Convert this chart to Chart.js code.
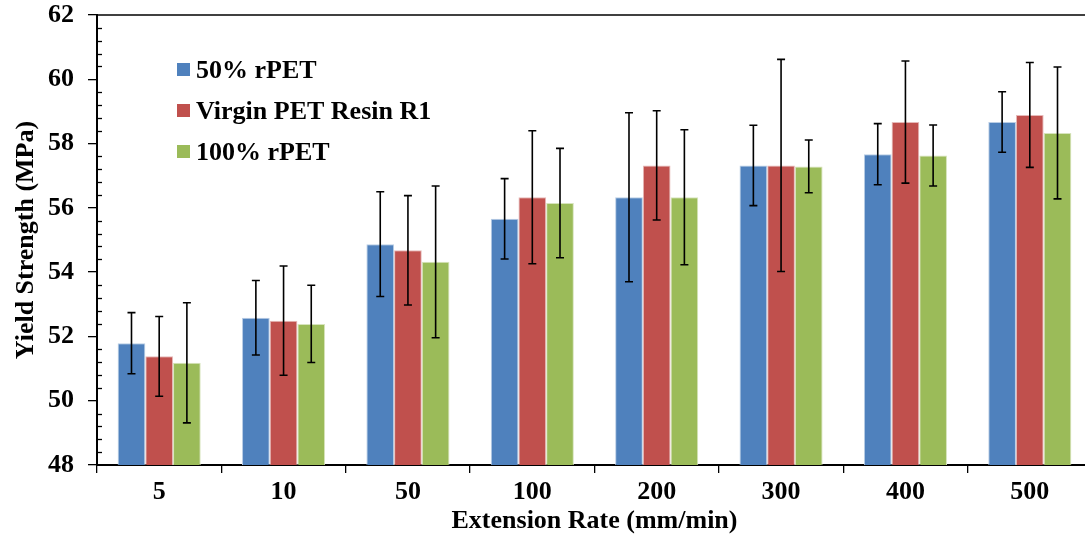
<!DOCTYPE html>
<html>
<head>
<meta charset="utf-8">
<script src="https://cdn.jsdelivr.net/npm/chart.js@4/dist/chart.umd.min.js"></script>
<style>
  html, body { margin: 0; padding: 0; background: #fff; overflow: hidden; }
  #wrap { width: 1092px; height: 537px; }
</style>
</head>
<body>
<div id="wrap"><canvas id="yieldChart"></canvas></div>
<script>
// extension rates (mm/min)
const categories = ['5', '10', '50', '100', '200', '300', '400', '500'];

// yield strength (MPa) and error bars
const rpet50 = [51.79, 52.58, 54.87, 55.66, 56.33, 57.32, 57.67, 58.67];
const rpet50Err = [0.95, 1.16, 1.63, 1.25, 2.63, 1.25, 0.95, 0.94];
const virgin = [51.38, 52.49, 54.68, 56.33, 57.32, 57.32, 58.67, 58.89];
const virginErr = [1.24, 1.70, 1.70, 2.07, 1.70, 3.30, 1.90, 1.63];
const rpet100 = [51.18, 52.39, 54.32, 56.15, 56.33, 57.29, 57.63, 58.33];
const rpet100Err = [1.87, 1.20, 2.36, 1.70, 2.10, 0.82, 0.95, 2.05];

const yMin = 48, yMax = 62, yStep = 2, yMinorStep = 0.4;

const FONT = 'Liberation Serif, "Times New Roman", serif';

// error bars drawn through the y scale
const errorBars = {
  id: 'errorBars',
  afterDatasetsDraw(chart) {
    const ctx = chart.ctx;
    const y = chart.scales.y;
    ctx.save();
    ctx.strokeStyle = '#000';
    ctx.lineWidth = 1.6;
    chart.data.datasets.forEach((ds, i) => {
      const meta = chart.getDatasetMeta(i);
      meta.data.forEach((bar, j) => {
        const top = y.getPixelForValue(ds.data[j] + ds.err[j]);
        const bot = y.getPixelForValue(ds.data[j] - ds.err[j]);
        const x = bar.x;
        ctx.beginPath();
        ctx.moveTo(x, top); ctx.lineTo(x, bot);
        ctx.moveTo(x - 4, top); ctx.lineTo(x + 4, top);
        ctx.moveTo(x - 4, bot); ctx.lineTo(x + 4, bot);
        ctx.stroke();
      });
    });
    ctx.restore();
  }
};

// minor ticks inside the y axis, top frame line, legend
const decorations = {
  id: 'decorations',
  afterDraw(chart) {
    const ctx = chart.ctx;
    const y = chart.scales.y;
    const area = chart.chartArea;
    ctx.save();
    ctx.strokeStyle = '#000';
    ctx.lineWidth = 1.3;
    const n = Math.round((yMax - yMin) / yMinorStep);
    for (let k = 1; k < n; k++) {
      if (k % Math.round(yStep / yMinorStep) === 0) continue;
      const py = Math.round(y.getPixelForValue(yMin + k * yMinorStep)) + 0.5;
      ctx.beginPath();
      ctx.moveTo(area.left, py);
      ctx.lineTo(area.left + 5, py);
      ctx.stroke();
    }
    ctx.lineWidth = 1.6;
    ctx.beginPath();
    ctx.moveTo(area.left, area.top);
    ctx.lineTo(area.right, area.top);
    ctx.stroke();

    // legend
    ctx.font = 'bold 26px ' + FONT;
    ctx.textBaseline = 'middle';
    chart.data.datasets.forEach((ds, i) => {
      const cy = area.top + 55 + i * 41;
      ctx.fillStyle = ds.backgroundColor;
      ctx.fillRect(area.left + 80, cy - 7, 13, 13);
      ctx.fillStyle = '#000';
      ctx.fillText(ds.label, area.left + 99, cy + 1);
    });
    ctx.restore();
  }
};

new Chart(document.getElementById('yieldChart'), {
  type: 'bar',
  data: {
    labels: categories,
    datasets: [
      { label: '50% rPET', data: rpet50, err: rpet50Err,
        backgroundColor: '#4F81BD', borderColor: '#B9CDE5', borderWidth: 1 },
      { label: 'Virgin PET Resin R1', data: virgin, err: virginErr,
        backgroundColor: '#C0504D', borderColor: '#E6B9B8', borderWidth: 1 },
      { label: '100% rPET', data: rpet100, err: rpet100Err,
        backgroundColor: '#9BBB59', borderColor: '#D7E4BD', borderWidth: 1 }
    ]
  },
  options: {
    responsive: true,
    maintainAspectRatio: false,
    animation: false,
    layout: { padding: { top: 15, right: 0, left: 0, bottom: 0 } },
    datasets: { bar: { categoryPercentage: 0.668, barPercentage: 1 } },
    plugins: {
      legend: { display: false },
      tooltip: { enabled: false }
    },
    scales: {
      x: {
        grid: { display: true, drawOnChartArea: false, offset: true, tickLength: 8, color: '#000', lineWidth: 1.3 },
        border: { display: true, color: '#000', width: 2 },
        ticks: { color: '#000', padding: 4, font: { family: FONT, size: 26, weight: 'bold' } },
        title: { display: true, text: 'Extension Rate (mm/min)', color: '#000',
                 padding: { top: 0, bottom: 0 }, font: { family: FONT, size: 26, weight: 'bold' } },
        afterFit(scale) { scale.height = 72; scale.paddingLeft = 0; scale.paddingRight = 0; }
      },
      y: {
        min: yMin, max: yMax,
        grid: { display: true, drawOnChartArea: false, tickLength: 9, color: '#000', lineWidth: 1.3 },
        border: { display: true, color: '#000', width: 2 },
        ticks: { stepSize: yStep, color: '#000', padding: 14, font: { family: FONT, size: 26, weight: 'bold' } },
        title: { display: true, text: 'Yield Strength (MPa)', color: '#000',
                 padding: { top: 11, bottom: 0 }, font: { family: FONT, size: 26, weight: 'bold' } },
        afterFit(scale) { scale.width = 97; scale.paddingTop = 0; scale.paddingBottom = 0; }
      }
    }
  },
  plugins: [errorBars, decorations]
});
</script>
</body>
</html>
